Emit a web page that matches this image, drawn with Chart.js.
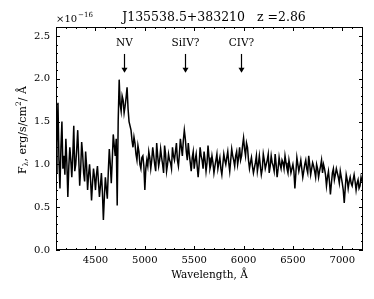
<!DOCTYPE html>
<html>
<head>
<meta charset="utf-8">
<script src="https://cdn.jsdelivr.net/npm/chart.js@4.4.0/dist/chart.umd.min.js"></script>
<style>
  html, body { margin: 0; padding: 0; background: #fff; }
  #wrap { width: 374px; height: 299px; }
</style>
</head>
<body>
<div id="wrap"><canvas id="spec" width="374" height="299"></canvas></div>
<script>
// wavelength grid of the spectrum (Angstrom), one row below = 100 A
const waveStart = 4100;
const waveStep = 10;
// flux, units of 1e-16 erg/s/cm2/A
const flux = [
  0.90, 1.25, 1.72, 1.05, 0.72, 1.20, 1.50, 0.95, 1.10, 0.88,
  1.30, 1.02, 0.62, 0.98, 1.20, 1.05, 0.85, 1.10, 1.45, 0.92,
  1.00, 1.18, 1.40, 1.08, 0.75, 0.95, 1.26, 1.12, 0.90, 0.80,
  1.15, 0.98, 0.70, 0.88, 1.00, 0.82, 0.58, 0.78, 0.95, 0.85,
  0.70, 0.88, 0.98, 0.80, 0.62, 0.75, 0.90, 0.68, 0.35, 0.62,
  0.85, 0.72, 0.60, 0.92, 1.18, 1.00, 0.78, 1.05, 1.35, 1.22,
  1.10, 1.30, 0.52, 1.50, 1.99, 1.70, 1.62, 1.80, 1.75, 1.60,
  1.68, 1.78, 1.90, 1.65, 1.50, 1.45, 1.40, 1.28, 1.20, 1.32,
  1.25, 1.12, 1.05, 1.22, 1.15, 1.00, 0.95, 1.08, 1.10, 0.98,
  0.70, 0.95, 1.05, 0.98, 1.15, 1.08, 0.95, 1.05, 1.20, 1.10,
  1.00, 0.92, 1.25, 1.10, 0.98, 1.05, 1.18, 1.08, 1.00, 0.90,
  1.22, 1.12, 0.92, 1.00, 1.12, 1.05, 1.02, 0.95, 1.20, 1.10,
  1.05, 1.15, 1.25, 1.05, 0.98, 1.12, 1.30, 1.20, 1.10, 1.28,
  1.40, 1.30, 1.15, 1.05, 1.25, 1.12, 1.02, 0.92, 1.08, 1.15,
  0.95, 1.05, 1.12, 0.98, 0.85, 1.00, 1.20, 1.10, 1.05, 0.95,
  1.15, 1.05, 0.92, 1.02, 1.22, 1.08, 0.95, 1.00, 1.10, 1.02,
  0.90, 0.98, 1.05, 1.12, 0.95, 1.02, 1.08, 0.95, 0.88, 1.00,
  1.12, 1.05, 1.00, 1.08, 1.15, 1.02, 0.92, 1.05, 1.18, 1.10,
  1.05, 0.98, 1.10, 1.15, 1.00, 1.08, 1.20, 1.05, 1.10, 1.22,
  1.31, 1.18, 1.10, 1.25, 1.20, 1.05, 0.95, 1.02, 1.08, 0.98,
  0.90, 0.96, 1.02, 1.10, 0.92, 1.00, 1.10, 0.98, 0.88, 0.95,
  1.12, 1.05, 0.95, 1.00, 1.05, 1.12, 0.90, 0.98, 1.10, 1.02,
  0.98, 0.92, 1.12, 1.00, 0.85, 0.95, 1.08, 1.00, 0.95, 1.05,
  1.02, 0.95, 1.10, 1.02, 0.95, 0.90, 1.05, 0.98, 0.90, 0.95,
  1.00, 0.92, 0.72, 0.90, 1.08, 1.00, 0.92, 0.98, 1.05, 0.95,
  0.85, 0.92, 1.00, 1.05, 0.95, 0.90, 1.10, 1.00, 0.88, 0.95,
  1.02, 0.98, 0.92, 0.85, 1.00, 0.95, 0.85, 0.92, 0.98, 1.05,
  0.90, 1.00, 0.95, 0.88, 0.75, 0.85, 0.92, 0.80, 0.65, 0.78,
  0.90, 0.95, 0.82, 0.88, 0.95, 0.90, 0.85, 0.78, 0.92, 0.85,
  0.78, 0.70, 0.55, 0.72, 0.88, 0.82, 0.72, 0.80, 0.85, 0.78,
  0.75, 0.82, 0.88, 0.80, 0.70, 0.78, 0.82, 0.72, 0.75, 0.85,
  0.80
];
const xTicks = [4500, 5000, 5500, 6000, 6500, 7000];
const yTicks = [0, 0.5, 1.0, 1.5, 2.0, 2.5];
// emission lines marked with arrows
const lineLabels = ['NV', 'SiIV?', 'CIV?'];
const lineWaves = [4790, 5405, 5975];

const titleText = 'J135538.5+383210   z =2.86';
const FONT = '"DejaVu Serif", serif';

const points = flux.map((f, i) => ({ x: waveStart + i * waveStep, y: f }));

const decor = {
  id: 'decor',
  afterDraw(chart) {
    const ctx = chart.ctx;
    const a = chart.chartArea;
    const xs = chart.scales.x, ys = chart.scales.y;
    ctx.save();
    ctx.strokeStyle = '#000';
    ctx.fillStyle = '#000';
    ctx.lineWidth = 1;
    ctx.strokeRect(a.left + 0.5, a.top + 0.5, a.right - a.left - 1, a.bottom - a.top - 1);

    // inward ticks on all four sides
    ctx.beginPath();
    for (let w = 4200; w <= 7200; w += 100) {
      const px = Math.round(xs.getPixelForValue(w)) + 0.5;
      const len = (w % 500 === 0) ? 4 : 2;
      ctx.moveTo(px, a.bottom); ctx.lineTo(px, a.bottom - len);
      ctx.moveTo(px, a.top); ctx.lineTo(px, a.top + len);
    }
    for (let k = 0; k <= 26; k++) {
      const py = Math.round(ys.getPixelForValue(k / 10)) + 0.5;
      const len = (k % 5 === 0) ? 4 : 2;
      ctx.moveTo(a.left, py); ctx.lineTo(a.left + len, py);
      ctx.moveTo(a.right, py); ctx.lineTo(a.right - len, py);
    }
    ctx.stroke();

    // line markers
    ctx.font = '10.5px ' + FONT;
    ctx.textAlign = 'center';
    ctx.textBaseline = 'middle';
    lineLabels.forEach((lab, i) => {
      const px = Math.round(xs.getPixelForValue(lineWaves[i])) + 0.5;
      ctx.fillText(lab, px, ys.getPixelForValue(2.42));
      const y0 = ys.getPixelForValue(2.29), y1 = ys.getPixelForValue(2.07);
      ctx.beginPath();
      ctx.moveTo(px, y0); ctx.lineTo(px, y1 - 4);
      ctx.lineWidth = 1.2;
      ctx.stroke();
      ctx.beginPath();
      ctx.moveTo(px - 3, y1 - 5); ctx.lineTo(px + 3, y1 - 5); ctx.lineTo(px, y1);
      ctx.closePath();
      ctx.fill();
    });

    // title
    ctx.font = '12.5px ' + FONT;
    ctx.textBaseline = 'alphabetic';
    ctx.fillText(titleText, 214, 21);

    // offset text x10^-16
    ctx.textAlign = 'left';
    ctx.font = '10px ' + FONT;
    ctx.fillText('\u00d710', 56, 22);
    const w10 = ctx.measureText('\u00d710').width;
    ctx.font = '7px ' + FONT;
    ctx.fillText('\u221216', 56 + w10 + 1, 17);

    // y axis label with subscript lambda and superscript 2
    const parts = [
      { t: 'F', f: '11px ', dy: 0 },
      { t: '\u03bb', f: '7.5px ', dy: 2 },
      { t: ', erg/s/cm', f: '11px ', dy: 0 },
      { t: '2', f: '7.5px ', dy: -5 },
      { t: '/ \u00c5', f: '11px ', dy: 0 }
    ];
    let total = 0;
    parts.forEach(p => { ctx.font = p.f + FONT; p.w = ctx.measureText(p.t).width; total += p.w; });
    ctx.translate(26, 130);
    ctx.rotate(-Math.PI / 2);
    let cx = -total / 2;
    parts.forEach(p => {
      ctx.font = p.f + FONT;
      ctx.fillText(p.t, cx, p.dy);
      cx += p.w;
    });
    ctx.restore();
  }
};

new Chart(document.getElementById('spec'), {
  type: 'line',
  data: {
    datasets: [{
      data: points,
      borderColor: '#000',
      borderWidth: 1.5,
      pointRadius: 0,
      tension: 0,
      fill: false
    }]
  },
  options: {
    responsive: false,
    animation: false,
    layout: { padding: { top: 27, right: 11, left: 0, bottom: 13 } },
    plugins: { legend: { display: false }, tooltip: { enabled: false } },
    scales: {
      x: {
        type: 'linear',
        min: 4100,
        max: 7210,
        grid: { display: false, drawTicks: false },
        border: { display: false },
        afterBuildTicks: s => { s.ticks = xTicks.map(v => ({ value: v })); },
        afterFit: s => { s.height = 36; },
        ticks: {
          color: '#000',
          padding: 4,
          maxRotation: 0,
          font: { family: FONT, size: 10 },
          callback: v => String(v)
        },
        title: {
          display: true,
          text: 'Wavelength, \u00c5',
          color: '#000',
          font: { family: FONT, size: 10.5 },
          padding: { top: 3, bottom: 4 }
        }
      },
      y: {
        min: 0,
        max: 2.605,
        grid: { display: false, drawTicks: false },
        border: { display: false },
        afterBuildTicks: s => { s.ticks = yTicks.map(v => ({ value: v })); },
        afterFit: s => { s.width = 56; },
        ticks: {
          color: '#000',
          padding: 6,
          font: { family: FONT, size: 10 },
          callback: v => v.toFixed(1)
        }
      }
    }
  },
  plugins: [decor]
});
</script>
</body>
</html>
